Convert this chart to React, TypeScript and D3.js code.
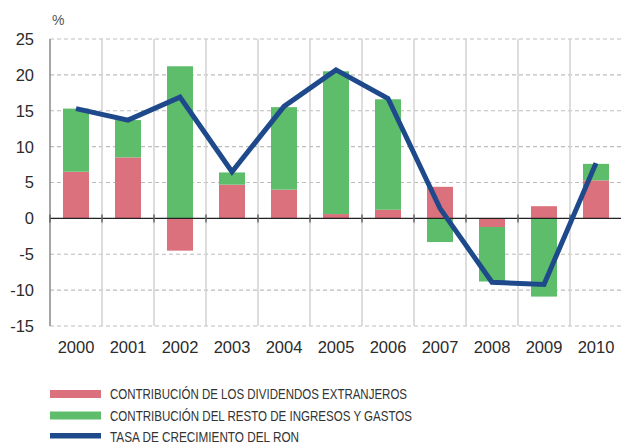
import React from "react";
import * as d3 from "d3";

const years = ["2000","2001","2002","2003","2004","2005","2006","2007","2008","2009","2010"];
const dividendos = [6.5, 8.5, -4.5, 4.7, 4.0, 0.6, 1.2, 4.4, -1.2, 1.7, 5.3];
const resto = [8.8, 5.2, 21.2, 1.7, 11.5, 19.9, 15.4, -3.3, -7.6, -10.9, 2.3];
const tasa = [15.3, 13.7, 16.9, 6.5, 15.6, 20.7, 16.7, 1.4, -8.9, -9.2, 7.7];
const yTicks = [25, 20, 15, 10, 5, 0, -5, -10, -15];
const legendLabels = [
  "CONTRIBUCIÓN DE LOS DIVIDENDOS EXTRANJEROS",
  "CONTRIBUCIÓN DEL RESTO DE INGRESOS Y GASTOS",
  "TASA DE CRECIMIENTO DEL RON",
];
const colors = ["#dc717e", "#5ebd6b", "#1e4a8b"];

export default function App() {
  const W = 621, H = 444;
  const left = 50, right = 622, top = 39, bottom = 326;
  const x = d3.scaleBand<string>().domain(years).range([left, right]).paddingInner(0).paddingOuter(0);
  const y = d3.scaleLinear().domain([-15, 25]).range([bottom, top]);
  const bw = x.bandwidth() / 2;
  const cx = (i: number) => (x(years[i]) as number) + x.bandwidth() / 2;

  const rows = years.map((yr, i) => ({ yr, d: dividendos[i], r: resto[i] }));
  const stack = d3.stack<any>().keys(["d", "r"]).offset(d3.stackOffsetDiverging)(rows);

  const line = d3.line<number>().x((_, i) => cx(i)).y((v) => y(v));
  const font = "'Liberation Sans', Arial, Helvetica, sans-serif";
  const boundaries = years.map((yr) => x(yr) as number).concat([right]);
  const legendWidths = [297, 302, 189];

  return (
    <svg width={W} height={H} style={{ position: "absolute", left: 0, top: 0 }} fontFamily={font}>
      <rect x={0} y={0} width={W} height={H} fill="#fff" />
      {yTicks.filter((t) => t !== 0).map((t) => (
        <line key={t} x1={left} x2={right} y1={y(t)} y2={y(t)} stroke="#bdbdbd" strokeWidth={1.2} strokeDasharray="4,3" />
      ))}
      {boundaries.slice(1).map((b, i) => (
        <line key={i} x1={b} x2={b} y1={top} y2={bottom} stroke="#d2d2d2" strokeWidth={1.5} />
      ))}
      <line x1={left} x2={left} y1={top} y2={bottom} stroke="#888" strokeWidth={1.5} />
      {stack.map((s, k) => (
        <g key={k}>
          {s.map((seg, i) => (
            <rect
              key={i}
              x={cx(i) - bw / 2}
              width={bw}
              y={y(Math.max(seg[0], seg[1]))}
              height={Math.abs(y(seg[0]) - y(seg[1]))}
              fill={colors[k]}
            />
          ))}
        </g>
      ))}
      <line x1={left} x2={right} y1={y(0)} y2={y(0)} stroke="#222" strokeWidth={1.3} />
      {boundaries.map((b, i) => (
        <line key={i} x1={b} x2={b} y1={y(0) - 4} y2={y(0) + 4} stroke="#666" strokeWidth={1.5} />
      ))}
      <path d={line(tasa) || ""} fill="none" stroke={colors[2]} strokeWidth={5} strokeLinejoin="miter" />
      {yTicks.map((t) => (
        <text key={t} x={34} y={y(t)} dy="0.36em" textAnchor="end" fontSize={16.5} fill="#2b2b2b">{t}</text>
      ))}
      <text x={52} y={25} fontSize={14} fill="#555">%</text>
      {years.map((yr, i) => (
        <text key={yr} x={cx(i)} y={353} textAnchor="middle" fontSize={16.5} fill="#2b2b2b">{yr}</text>
      ))}
      {legendLabels.map((lab, i) => {
        const yy = 394 + i * 21.5;
        return (
          <g key={i}>
            <rect x={50} y={yy - 4} width={51} height={i === 2 ? 5.5 : 8} fill={colors[i]} />
            <text x={110} y={yy} dy="0.36em" fontSize={15} fill="#333" textLength={legendWidths[i]} lengthAdjust="spacingAndGlyphs">{lab}</text>
          </g>
        );
      })}
    </svg>
  );
}
